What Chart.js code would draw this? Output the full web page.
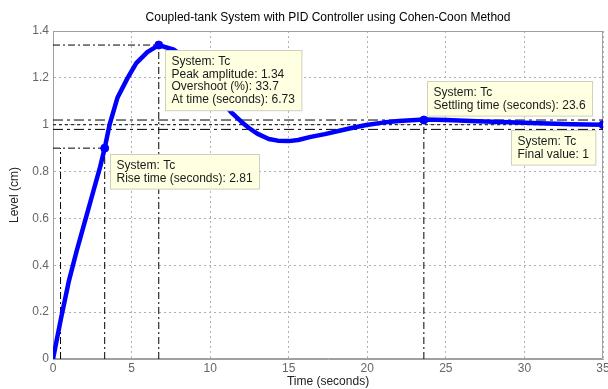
<!DOCTYPE html>
<html><head><meta charset="utf-8">
<script src="https://cdn.jsdelivr.net/npm/chart.js@4.4.0/dist/chart.umd.min.js"></script>
<style>html,body{margin:0;padding:0;background:#fff}#wrap{width:608px;height:389px}</style>
</head><body><div id="wrap"><canvas id="c" width="608" height="389"></canvas></div>
<script>
// ---- data ----
const chartTitle = 'Coupled-tank System with PID Controller using Cohen-Coon Method';
const xAxisTitle = 'Time (seconds)';
const yAxisTitle = 'Level (cm)';
const timeS   = [0, 0.5, 1.0, 1.5, 2.0, 2.5, 3.0, 3.29, 3.6, 4.1, 4.75, 5.3, 6.0, 6.73, 7.7, 8.5, 9.5, 10.5, 11.33, 12.0, 12.47, 13.0, 13.73, 14.3, 15.0, 15.6, 16.4, 17.3, 18.16, 19.0, 19.94, 21.0, 22.0, 23.6, 25, 27, 29, 31, 33, 35];
const levelCm = [0, 0.17, 0.33, 0.46, 0.58, 0.70, 0.82, 0.90, 1.00, 1.115, 1.20, 1.263, 1.31, 1.34, 1.32, 1.28, 1.21, 1.12, 1.054, 1.012, 0.986, 0.962, 0.939, 0.932, 0.930, 0.935, 0.948, 0.960, 0.973, 0.986, 0.999, 1.009, 1.016, 1.022, 1.02, 1.015, 1.01, 1.006, 1.002, 1.0];
const xTickLabels = ['0', '5', '10', '15', '20', '25', '30', '35'];
const yTickLabels = ['0', '0.2', '0.4', '0.6', '0.8', '1', '1.2', '1.4'];
const markerTime  = [3.29, 6.73, 23.6, 35];
const markerLevel = [0.9, 1.34, 1.02, 1.0];
const riseLowTime = 0.48, riseHighTime = 3.29, riseHighLevel = 0.9;
const peakTime = 6.73, peakLevel = 1.34;
const settleTime = 23.6, bandHigh = 1.02, bandLow = 0.98, finalValue = 1;
const noteRise   = ['System: Tc', 'Rise time (seconds): 2.81'];
const notePeak   = ['System: Tc', 'Peak amplitude: 1.34', 'Overshoot (%): 33.7', 'At time (seconds): 6.73'];
const noteSettle = ['System: Tc', 'Settling time (seconds): 23.6'];
const noteFinal  = ['System: Tc', 'Final value: 1'];

// ---- chart ----
const FONT = '"Liberation Sans", Arial, sans-serif';
const curve = timeS.map((t, i) => ({x: t, y: levelCm[i]}));
const markers = markerTime.map((t, i) => ({x: t, y: markerLevel[i]}));
const DD = [7, 3, 2, 3];
function refLine(pts, dash) {
  return {type: 'line', data: pts, borderColor: '#000', borderWidth: 1, borderDash: dash,
          pointRadius: 0, fill: false, tension: 0, order: 5};
}
const notes = [
  {lines: noteRise,   m: 0, place: 'br', dx: 5, dy: 6},
  {lines: notePeak,   m: 1, place: 'br', dx: 6, dy: 5},
  {lines: noteSettle, m: 2, place: 'tr', dx: 3, dy: 4},
  {lines: noteFinal,  m: 3, place: 'bl', dx: 8, dy: 5}
];
const framePlugin = {
  id: 'frame',
  beforeDatasetsDraw(chart) {
    const {ctx, chartArea: a} = chart;
    ctx.save();
    ctx.strokeStyle = '#a0a0a0'; ctx.lineWidth = 1;
    ctx.strokeRect(a.left + 0.5, a.top + 0.5, a.right - a.left - 1, a.bottom - a.top - 1);
    ctx.restore();
  },
  afterDatasetsDraw(chart) {
    const {ctx, scales: {x, y}} = chart;
    ctx.save();
    ctx.font = '12px ' + FONT;
    const lh = 12.8;
    notes.forEach(n => {
      const px = x.getPixelForValue(markerTime[n.m]);
      const py = y.getPixelForValue(markerLevel[n.m]);
      const w = Math.max(...n.lines.map(s => ctx.measureText(s).width)) + 13;
      const h = n.lines.length * lh + 9;
      let left, top;
      if (n.place === 'br') { left = px + n.dx; top = py + n.dy; }
      else if (n.place === 'tr') { left = px + n.dx; top = py - n.dy - h; }
      else { left = px - n.dx - w; top = py + n.dy; }
      left = Math.round(left) + 0.5; top = Math.round(top) + 0.5;
      ctx.fillStyle = '#ffffe1';
      ctx.fillRect(left, top, w, h);
      ctx.strokeStyle = '#cfcfbf'; ctx.lineWidth = 1;
      ctx.strokeRect(left, top, w, h);
      ctx.fillStyle = '#1a1a1a'; ctx.textBaseline = 'middle'; ctx.textAlign = 'left';
      n.lines.forEach((s, i) => ctx.fillText(s, left + 6, top + 11 + i * lh));
    });
    ctx.restore();
  }
};
new Chart(document.getElementById('c'), {
  type: 'line',
  data: {
    datasets: [
      {data: markers, showLine: false, pointRadius: 4, pointBackgroundColor: '#0000ff', pointBorderColor: '#0000ff', order: 0},
      {data: curve, borderColor: '#0000ff', borderWidth: 4.5, pointRadius: 0, tension: 0, fill: false, order: 1,
       borderCapStyle: 'round', borderJoinStyle: 'round'},
      refLine([{x: 0, y: peakLevel}, {x: peakTime, y: peakLevel}], DD),
      refLine([{x: peakTime, y: 0}, {x: peakTime, y: peakLevel}], DD),
      refLine([{x: 0, y: riseHighLevel}, {x: riseHighTime, y: riseHighLevel}], DD),
      refLine([{x: riseHighTime, y: 0}, {x: riseHighTime, y: riseHighLevel}], DD),
      refLine([{x: riseLowTime, y: 0}, {x: riseLowTime, y: riseHighLevel}], DD),
      refLine([{x: settleTime, y: 0}, {x: settleTime, y: bandHigh}], DD),
      refLine([{x: 0, y: bandHigh}, {x: 35, y: bandHigh}], [10, 4, 3, 4]),
      refLine([{x: 0, y: bandLow}, {x: 35, y: bandLow}], [10, 4, 3, 4]),
      refLine([{x: 0, y: finalValue}, {x: 35, y: finalValue}], [3, 3])
    ]
  },
  plugins: [framePlugin],
  options: {
    responsive: false, animation: false, devicePixelRatio: 1,
    layout: {padding: {left: 0, right: 2, top: 0, bottom: 0}},
    plugins: {
      legend: {display: false}, tooltip: {enabled: false},
      title: {display: true, text: chartTitle, fullSize: false, color: '#000',
              font: {family: FONT, size: 12, weight: 'normal'}, padding: {top: 10, bottom: 6.6}}
    },
    scales: {
      x: {
        type: 'linear', min: 0, max: 35,
        ticks: {stepSize: 5, padding: 2, color: '#666', font: {family: FONT, size: 12},
                callback: (v, i) => xTickLabels[i] ?? String(v)},
        grid: {color: '#b0b0b0', drawTicks: false},
        border: {display: true, color: '#a0a0a0', dash: [2, 3]},
        title: {display: true, text: xAxisTitle, color: '#222', font: {family: FONT, size: 12}, padding: {top: 0, bottom: 0}},
        afterFit(s) { s.height = 30; s.paddingLeft = 0; s.paddingRight = 0; }
      },
      y: {
        type: 'linear', min: 0, max: 1.4,
        ticks: {stepSize: 0.2, padding: 4, color: '#666', font: {family: FONT, size: 12},
                callback: (v, i) => yTickLabels[i] ?? String(v)},
        grid: {color: '#b0b0b0', drawTicks: false},
        border: {display: true, color: '#a0a0a0', dash: [2, 3]},
        title: {display: true, text: yAxisTitle, color: '#222', font: {family: FONT, size: 12}, padding: {top: 7, bottom: 0}},
        afterFit(s) { s.width = 53; s.paddingTop = 0; s.paddingBottom = 0; }
      }
    }
  }
});
</script></body></html>
